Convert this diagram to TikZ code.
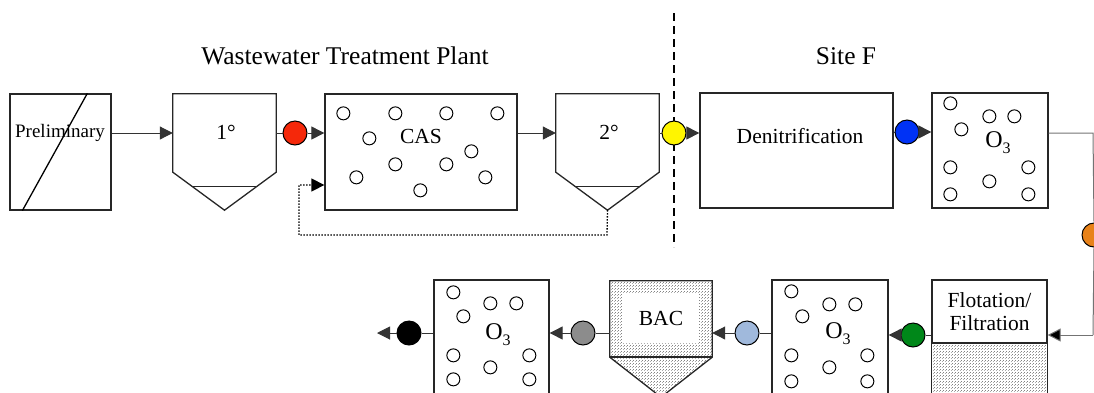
\documentclass[tikz,border=0pt]{standalone}
\usepackage{fontspec}
\setmainfont{Liberation Serif}
\usetikzlibrary{arrows.meta,patterns,calc}
\definecolor{cred}{RGB}{245,40,10}
\definecolor{cyellow}{RGB}{255,245,0}
\definecolor{cblue}{RGB}{0,50,245}
\definecolor{corange}{RGB}{232,130,25}
\definecolor{cgreen}{RGB}{0,135,25}
\definecolor{clblue}{RGB}{160,185,220}
\definecolor{cgray}{RGB}{140,140,140}
\pgfdeclarepatternformonly{finedots}{\pgfpointorigin}{\pgfqpoint{2.6pt}{2.6pt}}{\pgfqpoint{2.6pt}{2.6pt}}{%
  \pgfpathrectangle{\pgfqpoint{0pt}{0pt}}{\pgfqpoint{0.7pt}{0.7pt}}%
  \pgfpathrectangle{\pgfqpoint{1.3pt}{1.3pt}}{\pgfqpoint{0.7pt}{0.7pt}}%
  \pgfusepath{fill}}
\tikzset{
  box/.style={draw=black!85,line width=1.3pt,rectangle,inner sep=0pt},
  ghost/.style={draw=none,rectangle,inner sep=0pt},
  lbl/.style={font=\fontsize{21.5}{24}\selectfont,inner sep=0pt},
  ozl/.style={font=\fontsize{24}{26}\selectfont,inner sep=0pt},
  ttl/.style={font=\fontsize{25.5}{28}\selectfont,inner sep=0pt},
  dot/.style={circle,draw=black,line width=1pt,minimum size=24pt,inner sep=0pt},
  bub/.style={circle,draw=black,line width=1pt,minimum size=13pt,inner sep=0pt,fill=white},
  con/.style={draw=black!80,line width=1pt},
  arr/.style={con,-{Triangle[length=13pt,width=13pt]}},
  stip/.style={pattern=finedots,pattern color=black!75},
}
\newcommand{\bubs}[2]{\foreach \bx/\by in {#2} \node[bub] at ($(#1)+(\bx,\by)$) {};}
\newcommand{\ozo}{O\raisebox{-6pt}{\fontsize{16}{18}\selectfont 3}}
\begin{document}
\begin{tikzpicture}[x=1pt,y=-1pt]
\useasboundingbox (0,0) rectangle (1094,392);
\clip (0,0) rectangle (1094,392);
% titles
\node[ttl] (ttlw) at (345,56) {Wastewater Treatment Plant};
\node[ttl] (ttls) at (846,56) {Site F};
% dashed divider
\coordinate (dtop) at (674,13);
\coordinate (dbot) at (674,247);
\draw[line width=2pt,dash pattern=on 8pt off 5pt] (dtop) -- (dbot);
% Preliminary
\node[box,minimum width=101pt,minimum height=116pt] (pre) at (60.5,152) {};
\draw[line width=1.3pt] ($(pre.north west)+(78,0)$) -- ($(pre.south west)+(13,0)$);
\node[lbl,font=\fontsize{19}{22}\selectfont] (pretxt) at (60,133) {Preliminary};
% primary settler
\node[ghost,minimum width=103pt,minimum height=78pt] (s1) at (224.5,133) {};
\draw[line width=1.3pt,draw=black!85] (s1.north west) -- (s1.north east) -- (s1.south east) -- ($(s1.south)+(0,38)$) -- (s1.south west) -- cycle;
\draw[line width=1.3pt,draw=black!85] ($(s1.south)+(-32.5,14)$) -- ($(s1.south)+(32.5,14)$);
\node[lbl] (s1t) at (226,132) {1°};
% red
\node[dot,fill=cred] (r1) at (295,133) {};
% CAS
\node[box,minimum width=192pt,minimum height=116pt] (cas) at (421,152) {};
\node[lbl] (cast) at (421,136) {CAS};
\bubs{cas.north west}{19/20,71/20,122/20,173/20,45/45,147/58,71/71,122/71,32/84,161/84,96/97}
% secondary settler
\node[ghost,minimum width=103pt,minimum height=78pt] (s2) at (607.5,133) {};
\draw[line width=1.3pt,draw=black!85] (s2.north west) -- (s2.north east) -- (s2.south east) -- ($(s2.south)+(0,38)$) coordinate (s2tip) -- (s2.south west) -- cycle;
\draw[line width=1.3pt,draw=black!85] ($(s2.south)+(-32.5,14)$) -- ($(s2.south)+(32.5,14)$);
\node[lbl] (s2t) at (609,132) {2°};
% yellow
\node[dot,fill=cyellow] (y1) at (674,133) {};
% Denitrification
\node[box,minimum width=193pt,minimum height=115pt] (den) at (796.5,150.5) {};
\node[lbl] (dent) at (800,136) {Denitrification};
% blue
\node[dot,fill=cblue] (b1) at (907,132) {};
% ozone A
\node[box,minimum width=116pt,minimum height=115pt] (oza) at (990,150.5) {};
\bubs{oza.north west}{19/11,58/24,83/24,30/37,19/75,97/75,58/89,19/102,97/102}
\node[ozl] (ozat) at (998,143) {\ozo};
% right side loop
\coordinate (rc1) at (1093,133);
\coordinate (rc2) at (1093,335);
\node[dot,fill=corange] (o1) at (1094,235) {};
% Flotation / Filtration
\node[box,minimum width=115pt,minimum height=63pt] (flo) at (989.5,311.5) {};
\node[lbl,align=center] (flot) at (989.5,312) {Flotation/\\[-1pt]Filtration};
\path[stip] (flo.south west) rectangle ($(flo.south east)+(0,100)$);
\draw[draw=black!85,line width=1.3pt] (flo.south west) rectangle ($(flo.south east)+(0,100)$);
% green
\node[dot,fill=cgreen] (g1) at (913,335) {};
% ozone B
\node[box,minimum width=116pt,minimum height=115pt] (ozb) at (830,337.5) {};
\bubs{ozb.north west}{20/12,58/25,84/25,31/37,20/76,96/76,58/88,20/102,96/102}
\node[ozl] (ozbt) at (838,334) {\ozo};
% light blue
\node[dot,fill=clblue] (lb1) at (747,333) {};
% BAC
\node[ghost,minimum width=102pt,minimum height=76pt] (bac) at (661,319) {};
\path[stip] (bac.north west) -- (bac.north east) -- (bac.south east) -- ($(bac.south)+(0,40)$) -- (bac.south west) -- cycle;
\draw[draw=black!85,line width=1.3pt] (bac.north west) -- (bac.north east) -- (bac.south east) -- ($(bac.south)+(0,40)$) -- (bac.south west) -- cycle;
\fill[white] (623,293) rectangle (699,343);
\draw[line width=1.5pt,draw=black!85] (bac.south west) -- (bac.south east);
\node[lbl] (bact) at (661,318) {BAC};
% gray
\node[dot,fill=cgray] (gr1) at (583,333) {};
% ozone C
\node[box,minimum width=115pt,minimum height=115pt] (ozc) at (491.5,337.5) {};
\bubs{ozc.north west}{20/13,57/24,83/24,30/37,20/76,96/76,57/88,20/100,96/100}
\node[ozl] (ozct) at (498,335) {\ozo};
% black
\node[dot,fill=black] (bk1) at (409,333) {};
\coordinate (outend) at (377,333);
% connectors
\draw[arr] (pre.east |- pretxt.center) -- (s1.west |- pretxt.center);
\draw[con] (s1.east |- r1.center) -- (r1.west);
\draw[arr] (r1.east) -- (cas.west |- r1.center);
\draw[arr] (cas.east |- r1.center) -- (s2.west |- r1.center);
\draw[con] (s2.east |- y1.center) -- (y1.west);
\draw[arr] (y1.east) -- (den.west |- y1.center);
\draw[con] (den.east |- b1.center) -- (b1.west);
\draw[arr] (b1.east) -- (oza.west |- b1.center);
\draw[con,draw=black!55] (oza.east |- rc1) -- (rc1) -- (o1.north);
\draw[con,draw=black!55] (o1.south) -- (rc2);
\draw[arr,draw=black!55,-{Triangle[length=13pt,width=13pt,fill=black]}] (rc2) -- (flo.east |- rc2);
\draw[con] (flo.west |- g1.center) -- (g1.east);
\draw[arr] (g1.west) -- (ozb.east |- g1.center);
\draw[con] (ozb.west |- lb1.center) -- (lb1.east);
\draw[arr] (lb1.west) -- (bac.east |- lb1.center);
\draw[con] (bac.west |- gr1.center) -- (gr1.east);
\draw[arr] (gr1.west) -- (ozc.east |- gr1.center);
\draw[con] (ozc.west |- bk1.center) -- (bk1.east);
\draw[arr] (bk1.west) -- (outend);
% recycle
\draw[con,draw=black,line width=1.3pt,dash pattern=on 1.5pt off 1.5pt,-{Triangle[length=13pt,width=13pt]}] (s2tip) -- (607,235) -- (299,235) -- (299,185) -- (cas.west |- 299,185);
\end{tikzpicture}
\end{document}
